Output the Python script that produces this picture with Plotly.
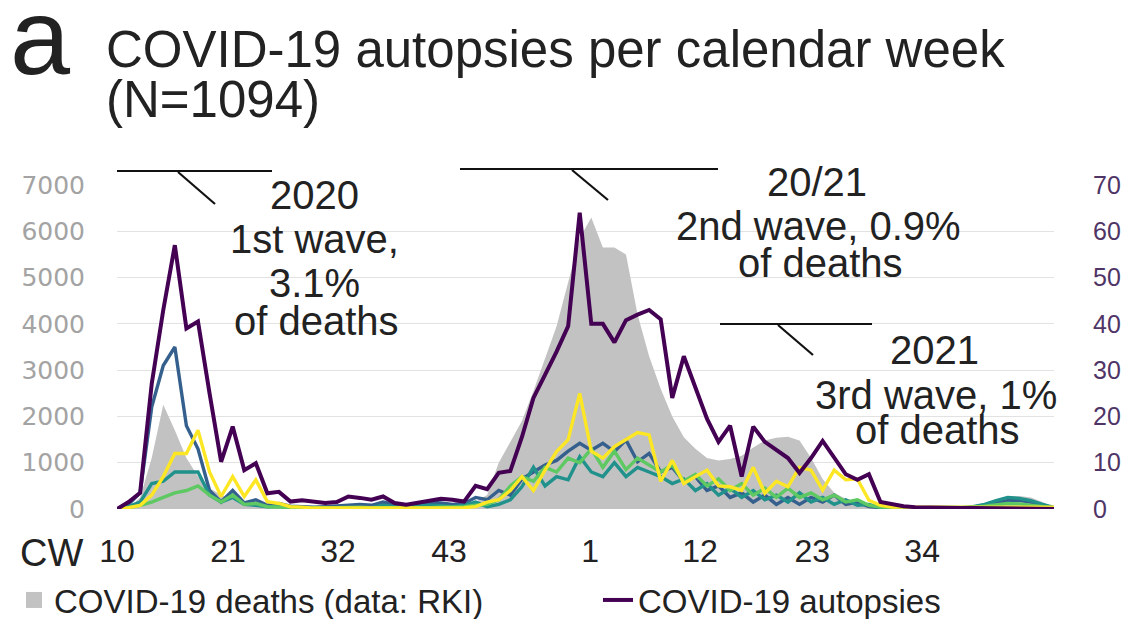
import plotly.graph_objects as go

# Calendar weeks: 2020 CW10..CW53, then 2021 CW1..CW38
cw_2020 = list(range(10, 54))
cw_2021 = list(range(1, 39))
week_labels = [str(w) for w in cw_2020] + [str(w) for w in cw_2021]
x_idx = list(range(len(week_labels)))

# Calendar-week tick labels and their positions along the week axis
tick_text = ["10", "21", "32", "43", "1", "12", "23", "34"]
tick_pos = [0, 9.6, 19.1, 28.7, 40.9, 50.4, 60.1, 69.6]

# COVID-19 deaths per week (RKI), left axis
deaths = [0, 20, 250, 1100, 2250, 1700, 1100, 700, 450, 300,
          200, 150, 110, 80, 60, 45, 40, 35, 30, 30,
          30, 30, 35, 40, 45, 50, 60, 70, 90, 110,
          150, 150, 300, 1000, 1450, 1900, 2550, 3250, 3950, 4900,
          5850, 6300, 5650, 5650, 5500, 4200, 3300, 2600, 2000, 1550,
          1300, 1100, 1050, 1080, 1150, 1330, 1480, 1540, 1560, 1480,
          1100, 650, 350, 220, 150, 110, 80, 60, 50, 45,
          40, 40, 40, 45, 60, 110, 190, 260, 280, 250,
          150, 40]

# COVID-19 autopsies per week (all centres), right axis
autopsies = [0, 1.5, 3.5, 27, 43, 57, 39, 40.5, 25, 10.2,
             17.8, 8.4, 9.9, 3.4, 3.7, 1.6, 1.9, 1.5, 1.3, 1.5,
             2.7, 2.4, 2.0, 2.7, 1.3, 0.9, 1.4, 1.8, 2.2, 2.0,
             1.6, 5.0, 4.3, 7.8, 8.2, 15.5, 24, 29, 34, 39.5,
             64, 40, 40, 36, 40.8, 42, 43, 41, 24, 33,
             26.5, 19.5, 14.5, 18, 7.0, 17.8, 14.5, 12.7, 11, 7.8,
             11, 14.7, 11, 7.5, 6.3, 7.5, 1.5, 1.0, 0.6, 0.4,
             0.3, 0.2, 0.2, 0.2, 0.2, 0.2, 0.2, 0.2, 0.2, 0.2,
             0.1, 0]

# Autopsies per week for four contributing centres, right axis
centre_a = [0, 1, 3.5, 22, 31, 35, 18, 13, 4, 1.5,
            4, 1.3, 2, 0.8, 1.2, 0.6, 0.5, 0.4, 0.5, 0.6,
            0.8, 1.0, 0.8, 1.5, 1.0, 0.8, 1.2, 1.5, 1.3, 1.0,
            1.2, 2.5, 2.0, 4.0, 3.0, 6.5, 8.0, 9.5, 10.5, 12.5,
            14.2, 12.7, 14.2, 12.4, 14.9, 10.2, 12.0, 8.0, 9.0, 6.0,
            7.0, 4.0, 5.0, 2.5, 3.5, 1.5, 3.0, 1.0, 2.5, 1.0,
            2.5, 1.5, 3.0, 1.0, 1.5, 0.5, 0.3, 0.2, 0.2, 0.2,
            0.2, 0.2, 0.2, 0.2, 0.4, 0.8, 1.3, 1.8, 1.9, 1.5,
            0.8, 0.2]
centre_b = [0, 0.5, 1.5, 5.5, 6, 8, 8, 8, 3, 1.5,
            2.5, 1.0, 0.8, 0.5, 0.6, 0.4, 0.3, 0.3, 0.3, 0.3,
            0.3, 0.3, 0.3, 0.8, 0.5, 0.4, 0.6, 0.8, 0.7, 0.5,
            0.8, 1.5, 0.5, 1.0, 2.0, 4.8, 9, 5, 7, 6.3,
            11.3, 8, 7, 10, 7, 9, 8, 7, 5.5, 6.5,
            4, 5.5, 3, 4.5, 2.5, 4, 2, 3, 1.5, 3.5,
            1.5, 2.5, 1, 2, 0.8, 1, 0.3, 0.3, 0.3, 0.3,
            0.3, 0.3, 0.3, 0.3, 0.5, 1.0, 1.8, 2.5, 2.3, 1.8,
            1.0, 0.3]
centre_c = [0, 0.3, 0.8, 1.5, 2.5, 3.5, 4, 5, 3, 1.5,
            3, 1.0, 1.2, 0.5, 0.4, 0.3, 0.3, 0.2, 0.2, 0.3,
            0.3, 0.4, 0.3, 0.3, 0.2, 0.2, 0.3, 0.3, 0.4, 0.4,
            0.5, 0.8, 1.0, 2.0, 5.0, 7.0, 6.0, 9.0, 8.0, 11.0,
            10.0, 13.0, 9.0, 12.5, 8.5, 11.0, 9.5, 8.0, 9.5, 6.0,
            7.5, 5.0, 6.5, 4.0, 5.5, 3.0, 4.5, 2.5, 4.5, 2.5,
            3.5, 2.0, 3.0, 1.5, 2.0, 0.8, 0.4, 0.3, 0.3, 0.3,
            0.3, 0.3, 0.3, 0.3, 0.4, 0.6, 0.9, 1.2, 1.1, 0.8,
            0.5, 0.2]
centre_d = [0, 0.3, 0.8, 3, 7, 12, 12, 17, 8, 2.7,
            7, 2.7, 6.3, 1.6, 1.2, 0.5, 0.4, 0.2, 0.2, 0.2,
            0.2, 0.2, 0.2, 0.2, 0.2, 0.2, 0.2, 0.2, 0.2, 0.2,
            0.3, 0.5, 1.5, 2.0, 4.0, 7.0, 4.0, 8.4, 12.4, 15,
            25, 12.5, 11, 13.5, 15, 16.5, 16, 6, 10.5, 5.5,
            7, 8.4, 5, 4.8, 4, 9, 3.4, 6, 4.8, 9,
            8.4, 4.1, 8.4, 6.3, 6.5, 1.9, 0.8, 0.4, 0.4, 0.4,
            0.4, 0.4, 0.4, 0.4, 0.4, 0.4, 0.4, 0.4, 0.4, 0.4,
            0.4, 0.4]

# Wave call-outs: text lines
wave_texts = [
    ["2020", "1st wave,", "3.1%", "of deaths"],
    ["20/21", "2nd wave, 0.9%", "of deaths"],
    ["2021", "3rd wave, 1%", "of deaths"],
]

# ---------------------------------------------------------------------------
W, H = 1138, 619
PL, PR, PT, PB = 117, 1054, 185, 509   # plot area in pixels


def fx(px):
    return (px - PL) / (PR - PL)


def fy(py):
    return (PB - py) / (PB - PT)


fig = go.Figure()

GREY = "#c2c2c2"
fig.add_trace(go.Scatter(
    x=x_idx, y=deaths, mode="lines", fill="tozeroy",
    fillcolor=GREY, line=dict(width=0, color=GREY),
    yaxis="y", showlegend=False, hoverinfo="skip",
))
# legend key for the deaths area (square swatch)
fig.add_trace(go.Scatter(
    x=[None], y=[None], mode="markers",
    marker=dict(symbol="square", size=17, color=GREY),
    name="COVID-19 deaths (data: RKI)", legend="legend",
))

centre_colors = ["#35608d", "#21918c", "#5ec962", "#fde725"]
for series, col in zip([centre_a, centre_b, centre_c, centre_d], centre_colors):
    fig.add_trace(go.Scatter(
        x=x_idx, y=series, mode="lines", yaxis="y2",
        line=dict(color=col, width=3.4), showlegend=False,
    ))

fig.add_trace(go.Scatter(
    x=x_idx, y=autopsies, mode="lines", yaxis="y2",
    line=dict(color="#440154", width=4),
    name="COVID-19 autopsies", legend="legend2",
))

font_main = "Liberation Sans, Arial, sans-serif"
INK = "#222222"

annotations = []
# panel letter and title
annotations.append(dict(text="a", x=fx(8), y=fy(36), xref="paper", yref="paper",
                        xanchor="left", yanchor="middle", showarrow=False,
                        font=dict(family=font_main, size=108, color=INK)))
annotations.append(dict(text="COVID-19 autopsies per calendar week", x=fx(104), y=fy(50),
                        xref="paper", yref="paper", xanchor="left", yanchor="middle",
                        showarrow=False, font=dict(family=font_main, size=51, color=INK)))
annotations.append(dict(text="(N=1094)", x=fx(104), y=fy(100),
                        xref="paper", yref="paper", xanchor="left", yanchor="middle",
                        showarrow=False, font=dict(family=font_main, size=51, color=INK)))
# "CW" axis caption
annotations.append(dict(text="CW", x=fx(51), y=fy(553), xref="paper", yref="paper",
                        xanchor="center", yanchor="middle", showarrow=False,
                        font=dict(family=font_main, size=38, color=INK)))

wave_positions = [
    [(314, 195), (314, 239), (314, 283), (316, 321)],
    [(817, 182), (818, 226), (820, 263)],
    [(934, 350), (936, 395), (937, 430)],
]
for lines, pos in zip(wave_texts, wave_positions):
    for t, (px, py) in zip(lines, pos):
        annotations.append(dict(text=t, x=fx(px), y=fy(py), xref="paper", yref="paper",
                                xanchor="center", yanchor="middle", showarrow=False,
                                font=dict(family=font_main, size=40, color=INK)))

# call-out bracket lines
bracket_lines = [
    ((117, 171), (272, 171)), ((178, 172), (215, 204)),
    ((460, 169), (718, 169)), ((572, 170), (608, 200)),
    ((720, 324), (872, 324)), ((778, 325), (813, 355)),
]
shapes = []
for (x0, y0), (x1, y1) in bracket_lines:
    shapes.append(dict(type="line", xref="paper", yref="paper",
                       x0=fx(x0), y0=fy(y0), x1=fx(x1), y1=fy(y1),
                       line=dict(color="#111111", width=2.2), layer="above"))

legend_font = dict(family=font_main, size=33, color=INK)
fig.update_layout(
    width=W, height=H,
    margin=dict(l=PL, r=W - PR, t=PT, b=H - PB, pad=0, autoexpand=False),
    paper_bgcolor="white", plot_bgcolor="white",
    xaxis=dict(range=[0, len(x_idx) - 1], tickvals=tick_pos, ticktext=tick_text,
               showgrid=False, zeroline=False, showline=False, ticks="",
               ticklabelstandoff=20,
               tickfont=dict(family=font_main, size=32, color=INK)),
    yaxis=dict(range=[0, 7000], dtick=1000, showgrid=True, gridcolor="#e2e2e2",
               gridwidth=1.2, zeroline=False, showline=False, ticks="",
               ticklabelstandoff=31,
               tickfont=dict(family="DejaVu Sans, sans-serif", size=25, color="#a3a3a3")),
    yaxis2=dict(range=[0, 70], dtick=10, overlaying="y", side="right",
                showgrid=False, zeroline=False, showline=False, ticks="",
                ticklabelstandoff=38,
                tickfont=dict(family=font_main, size=25, color="#4f3466")),
    legend=dict(orientation="h", x=fx(14), y=fy(600), xanchor="left", yanchor="middle",
                font=legend_font, bgcolor="rgba(0,0,0,0)"),
    legend2=dict(orientation="h", x=fx(598), y=fy(600), xanchor="left", yanchor="middle",
                 font=legend_font, bgcolor="rgba(0,0,0,0)"),
    annotations=annotations,
    shapes=shapes,
)

fig.write_html("out.html")
